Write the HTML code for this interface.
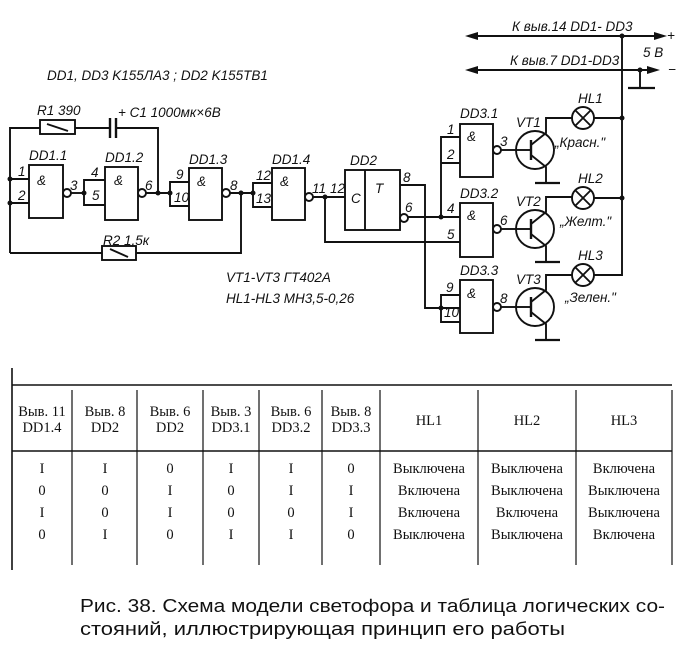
<!DOCTYPE html>
<html><head><meta charset="utf-8"><style>
html,body{margin:0;padding:0;background:#fff;}
svg{display:block}
.i{font-family:"Liberation Sans","DejaVu Sans",sans-serif;font-style:italic;font-size:13.5px;fill:#111}
.t{font-family:"Liberation Serif","DejaVu Serif",serif;font-size:14.5px;fill:#111}
</style></head><body>
<svg width="700" height="655" viewBox="0 0 700 655" xmlns="http://www.w3.org/2000/svg">
<g stroke="#111" stroke-width="1.9" fill="none">
<polyline points="10,253 10,128 40,128"/>
<rect x="40" y="120" width="35" height="14"/>
<line x1="47" y1="124" x2="68" y2="131"/>
<line x1="75" y1="128" x2="110" y2="128"/>
<line x1="110" y1="118" x2="110" y2="138" stroke-width="2.4"/>
<line x1="116" y1="118" x2="116" y2="138" stroke-width="2.4"/>
<polyline points="116,128 158,128 158,193"/>
<rect x="29" y="165" width="34" height="53"/>
<line x1="10" y1="179" x2="29" y2="179"/><line x1="10" y1="203" x2="29" y2="203"/>
<circle cx="67" cy="193" r="4"/><line x1="71" y1="193" x2="84" y2="193"/>
<rect x="105" y="167" width="33" height="53"/>
<polyline points="105,180 84,180 84,205 105,205"/>
<circle cx="142" cy="193" r="4"/><line x1="146" y1="193" x2="170" y2="193"/>
<rect x="189" y="168" width="33" height="52"/>
<polyline points="189,182 170,182 170,206 189,206"/>
<circle cx="226" cy="193" r="4"/><line x1="230" y1="193" x2="253" y2="193"/>
<polyline points="10,253 102,253"/>
<rect x="102" y="246" width="34" height="14"/>
<line x1="110" y1="249" x2="128" y2="257"/>
<polyline points="136,253 241,253 241,193"/>
<rect x="272" y="168" width="33" height="52"/>
<polyline points="272,183 253,183 253,207 272,207"/>
<circle cx="309" cy="197" r="4"/><line x1="313" y1="197" x2="345" y2="197"/>
<polyline points="325,197 325,242 460,242"/>
<rect x="345" y="170" width="55" height="60"/>
<line x1="365" y1="170" x2="365" y2="230"/>
<polyline points="400,185 425,185 425,308 460,308"/>
<circle cx="404" cy="218" r="4"/><line x1="408" y1="217" x2="460" y2="217"/>
<rect x="460" y="124" width="33" height="53"/>
<polyline points="460,137 441,137 441,217"/><line x1="441" y1="163" x2="460" y2="163"/>
<circle cx="497" cy="150" r="4"/><line x1="501" y1="150" x2="517" y2="150"/>
<rect x="460" y="203" width="33" height="54"/>
<circle cx="497" cy="229" r="4"/><line x1="501" y1="229" x2="517" y2="229"/>
<rect x="460" y="280" width="33" height="53"/>
<polyline points="460,295 441,295 441,322 460,322"/>
<circle cx="497" cy="307" r="4"/><line x1="501" y1="307" x2="517" y2="307"/>
<g id="vt">
<circle cx="535" cy="150" r="19"/>
<line x1="517" y1="150" x2="531" y2="150"/>
<line x1="531" y1="140" x2="531" y2="160" stroke-width="2.4"/>
<polyline points="531,145 546,133 546,118 572,118"/>
<polyline points="531,155 546,167 546,183"/>
<line x1="535" y1="183" x2="560" y2="183" stroke-width="2.2"/>
</g>
<use href="#vt" y="79"/>
<use href="#vt" y="157"/>
<circle cx="583" cy="118" r="11"/><line x1="575" y1="110" x2="591" y2="126"/><line x1="591" y1="110" x2="575" y2="126"/>
<circle cx="583" cy="198" r="11"/><line x1="575" y1="190" x2="591" y2="206"/><line x1="591" y1="190" x2="575" y2="206"/>
<circle cx="583" cy="275" r="11"/><line x1="575" y1="267" x2="591" y2="283"/><line x1="591" y1="267" x2="575" y2="283"/>
<line x1="546" y1="197" x2="572" y2="197"/>
<line x1="546" y1="275" x2="572" y2="275"/>
<polyline points="594,118 622,118"/><polyline points="594,198 622,198"/><polyline points="594,275 622,275 622,36"/>
<line x1="472" y1="36" x2="662" y2="36"/>
<line x1="472" y1="70" x2="655" y2="70"/>
<polyline points="640,70 640,88"/><line x1="628" y1="88" x2="655" y2="88" stroke-width="2.2"/>
</g>
<g fill="#111">
<polygon points="465,36 478,32 478,40"/><polygon points="667,36 654,32 654,40"/>
<polygon points="465,70 478,66 478,74"/><polygon points="660,70 647,66 647,74"/>
<circle cx="10" cy="179" r="2.5"/><circle cx="10" cy="203" r="2.5"/>
<circle cx="84" cy="193" r="2.5"/><circle cx="158" cy="193" r="2.5"/><circle cx="170" cy="193" r="2.5"/>
<circle cx="241" cy="193" r="2.5"/><circle cx="253" cy="193" r="2.5"/><circle cx="325" cy="197" r="2.5"/>
<circle cx="441" cy="217" r="2.5"/><circle cx="441" cy="308" r="2.5"/>
<circle cx="622" cy="36" r="2.5"/><circle cx="622" cy="118" r="2.5"/><circle cx="622" cy="198" r="2.5"/><circle cx="640" cy="70" r="2.5"/>
</g>
<text class="i" x="47" y="80">DD1, DD3  K155ЛА3 ;    DD2  K155ТВ1</text>
<text class="i" x="37" y="115">R1 390</text>
<text class="i" x="118" y="117">+ C1 1000мк×6В</text>
<text class="i" x="29" y="160">DD1.1</text><text class="i" x="105" y="162">DD1.2</text>
<text class="i" x="189" y="164">DD1.3</text><text class="i" x="272" y="164">DD1.4</text>
<text class="i" x="350" y="165">DD2</text>
<text class="i" x="37" y="185">&amp;</text><text class="i" x="114" y="185">&amp;</text><text class="i" x="197" y="186">&amp;</text><text class="i" x="280" y="186">&amp;</text>
<text class="i" x="18" y="176">1</text><text class="i" x="18" y="200">2</text><text class="i" x="70" y="190">3</text>
<text class="i" x="91" y="177">4</text><text class="i" x="92" y="200">5</text><text class="i" x="145" y="190">6</text>
<text class="i" x="176" y="179">9</text><text class="i" x="174" y="202">10</text><text class="i" x="230" y="190">8</text>
<text class="i" x="256" y="180">12</text><text class="i" x="256" y="203">13</text><text class="i" x="312" y="193">11</text><text class="i" x="330" y="193">12</text>
<text class="i" x="351" y="203">C</text><text class="i" x="375" y="193">T</text>
<text class="i" x="403" y="182">8</text><text class="i" x="405" y="212">6</text>
<text class="i" x="103" y="245">R2 1,5к</text>
<text class="i" x="460" y="118">DD3.1</text><text class="i" x="460" y="198">DD3.2</text><text class="i" x="460" y="275">DD3.3</text>
<text class="i" x="467" y="141">&amp;</text><text class="i" x="467" y="220">&amp;</text><text class="i" x="467" y="298">&amp;</text>
<text class="i" x="447" y="134">1</text><text class="i" x="447" y="159">2</text><text class="i" x="500" y="146">3</text>
<text class="i" x="447" y="213">4</text><text class="i" x="447" y="239">5</text><text class="i" x="500" y="225">6</text>
<text class="i" x="446" y="292">9</text><text class="i" x="444" y="317">10</text><text class="i" x="500" y="303">8</text>
<text class="i" x="516" y="127">VT1</text><text class="i" x="516" y="206">VT2</text><text class="i" x="516" y="284">VT3</text>
<text class="i" x="578" y="103">HL1</text><text class="i" x="578" y="183">HL2</text><text class="i" x="578" y="260">HL3</text>
<text class="i" x="555" y="147">„Красн."</text><text class="i" x="560" y="226">„Желт."</text><text class="i" x="565" y="302">„Зелен."</text>
<text class="i" x="512" y="31">К выв.14  DD1- DD3</text>
<text class="i" x="510" y="65">К выв.7  DD1-DD3</text>
<text class="i" x="643" y="57">5 В</text>
<text class="i" x="667" y="40">+</text><text class="i" x="668" y="74">−</text>
<text class="i" x="226" y="282">VT1-VT3   ГТ402А</text>
<text class="i" x="226" y="303">HL1-HL3   МН3,5-0,26</text>
<g stroke="#111" stroke-width="1.6">
<line x1="12" y1="368" x2="12" y2="570"/>
<line x1="12" y1="385" x2="672" y2="385"/>
<line x1="12" y1="451" x2="672" y2="451"/>
<g stroke-width="1.2">
<line x1="72" y1="390" x2="72" y2="565"/><line x1="137" y1="390" x2="137" y2="565"/>
<line x1="203" y1="390" x2="203" y2="565"/><line x1="259" y1="390" x2="259" y2="565"/>
<line x1="322" y1="390" x2="322" y2="565"/><line x1="380" y1="390" x2="380" y2="565"/>
<line x1="478" y1="390" x2="478" y2="565"/><line x1="576" y1="390" x2="576" y2="565"/>
<line x1="672" y1="390" x2="672" y2="565"/>
</g></g>
<g class="t" text-anchor="middle">
<text x="42" y="416">Выв. 11</text><text x="42" y="432">DD1.4</text>
<text x="105" y="416">Выв. 8</text><text x="105" y="432">DD2</text>
<text x="170" y="416">Выв. 6</text><text x="170" y="432">DD2</text>
<text x="231" y="416">Выв. 3</text><text x="231" y="432">DD3.1</text>
<text x="291" y="416">Выв. 6</text><text x="291" y="432">DD3.2</text>
<text x="351" y="416">Выв. 8</text><text x="351" y="432">DD3.3</text>
<text x="429" y="425">HL1</text><text x="527" y="425">HL2</text><text x="624" y="425">HL3</text>
<text x="42" y="473">I</text><text x="105" y="473">I</text><text x="170" y="473">0</text><text x="231" y="473">I</text><text x="291" y="473">I</text><text x="351" y="473">0</text>
<text x="429" y="473">Выключена</text><text x="527" y="473">Выключена</text><text x="624" y="473">Включена</text>
<text x="42" y="495">0</text><text x="105" y="495">0</text><text x="170" y="495">I</text><text x="231" y="495">0</text><text x="291" y="495">I</text><text x="351" y="495">I</text>
<text x="429" y="495">Включена</text><text x="527" y="495">Выключена</text><text x="624" y="495">Выключена</text>
<text x="42" y="517">I</text><text x="105" y="517">0</text><text x="170" y="517">I</text><text x="231" y="517">0</text><text x="291" y="517">0</text><text x="351" y="517">I</text>
<text x="429" y="517">Включена</text><text x="527" y="517">Включена</text><text x="624" y="517">Выключена</text>
<text x="42" y="539">0</text><text x="105" y="539">I</text><text x="170" y="539">0</text><text x="231" y="539">I</text><text x="291" y="539">I</text><text x="351" y="539">0</text>
<text x="429" y="539">Выключена</text><text x="527" y="539">Выключена</text><text x="624" y="539">Включена</text>
</g>
<text x="80" y="612" style="font-family:'Liberation Sans',sans-serif;font-size:18.5px;fill:#111" textLength="585" lengthAdjust="spacingAndGlyphs">Рис. 38. Схема модели светофора и таблица логических со-</text>
<text x="80" y="635" style="font-family:'Liberation Sans',sans-serif;font-size:18.5px;fill:#111" textLength="485" lengthAdjust="spacingAndGlyphs">стояний, иллюстрирующая принцип его работы</text>
</svg>
</body></html>
